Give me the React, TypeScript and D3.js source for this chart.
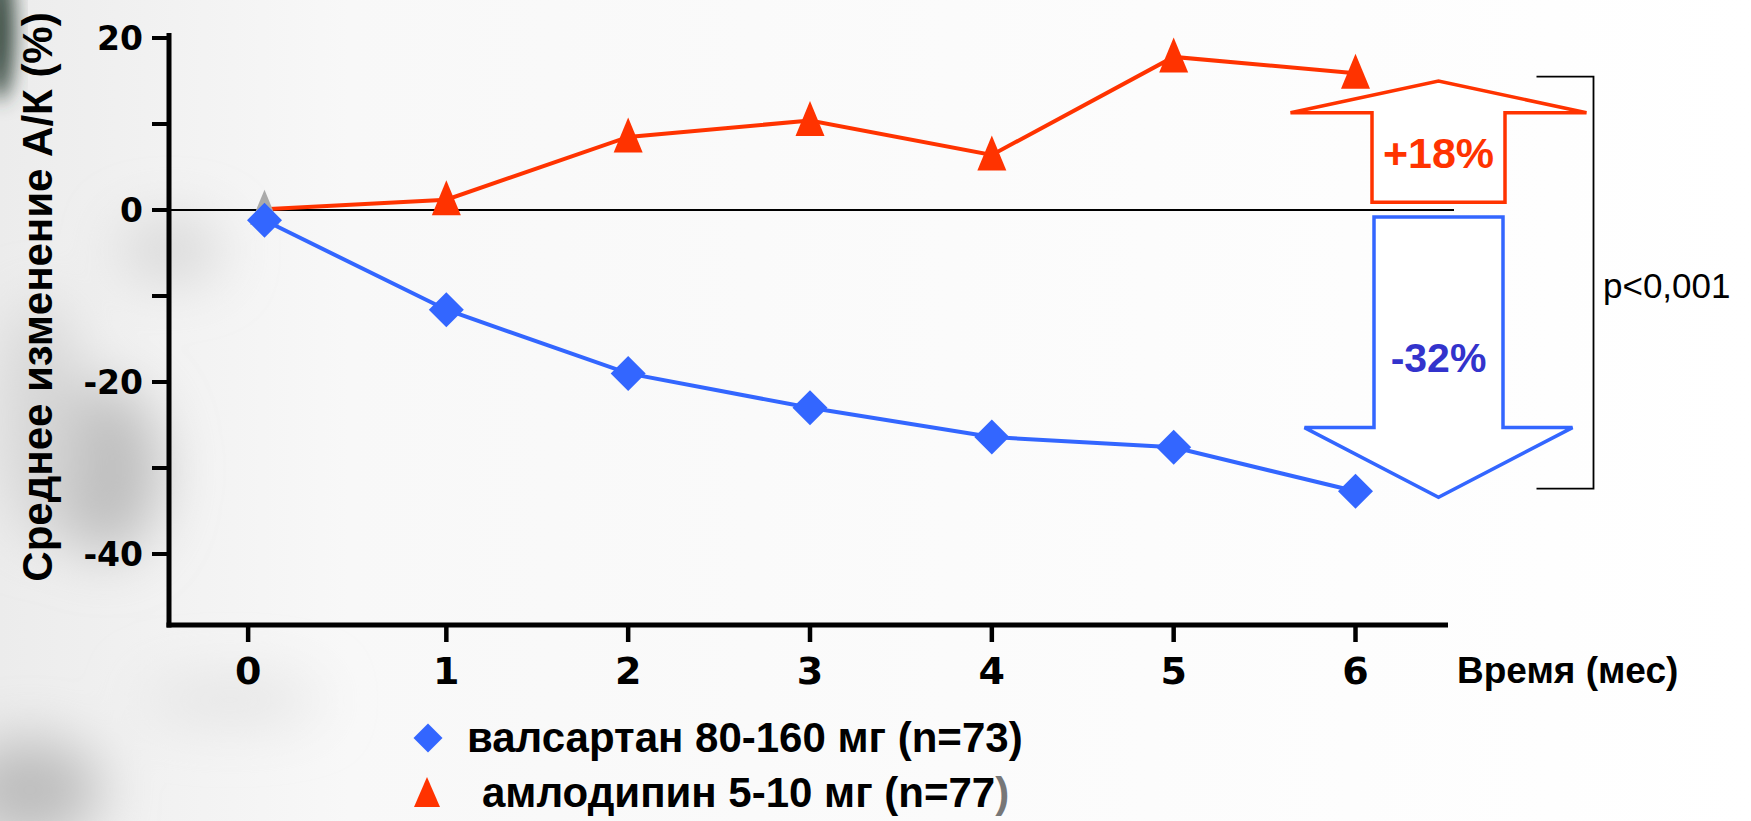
import * as d3 from "d3";

const months = [0, 1, 2, 3, 4, 5, 6];
const valsartan = [-1.2, -11.6, -19.0, -23.0, -26.4, -27.6, -32.7];
const amlodipine = [0.1, 1.2, 8.5, 10.4, 6.4, 17.8, 15.9];

// tick marks sit a little off the month value for "0" in the original
const xTickPos = [-0.09, 1, 2, 3, 4, 5, 6];
const xTickLabels = ["0", "1", "2", "3", "4", "5", "6"];
const yTicks = [20, 10, 0, -10, -20, -30, -40];
const yLabelled = [20, 0, -20, -40];

const legendLabels = ["валсартан 80-160 мг (n=73", "амлодипин 5-10 мг (n=77"];

// annotation arrows, in data units
const upArrow = { from: 0.9, headBase: 11.3, to: 15.0, label: "+18%" };
const downArrow = { from: -0.8, headBase: -25.3, to: -33.4, label: "-32%" };
const bracket = { top: 15.5, bottom: -32.4, label: "p<0,001" };

const W = 1751;
const H = 821;
const RED = "#ff3300";
const BLUE = "#3366ff";
const ARIAL = "'Liberation Sans', Arial, sans-serif";
const DEJAVU = "'DejaVu Sans', Verdana, sans-serif";

const x = d3.scaleLinear().domain([0, 6]).range([264.5, 1355.5]);
const y = d3.scaleLinear().domain([0, 20]).range([210, 38]);

const AXIS_X = 169;
const AXIS_Y = 625;
const AXIS_RIGHT = 1448;
const AXIS_TOP = 33;
const ARROW_CX = 1438.5;

const diamond = (cx: number, cy: number, r: number) =>
  `M${cx},${cy - r}L${cx + r},${cy}L${cx},${cy + r}L${cx - r},${cy}Z`;
const triangle = (cx: number, cy: number, w: number, h: number) =>
  `M${cx},${cy - h / 2}L${cx + w / 2},${cy + h / 2}L${cx - w / 2},${cy + h / 2}Z`;

const App = () => {
  const line = d3
    .line<number>()
    .x((_, i) => x(months[i]))
    .y((d) => y(d));

  const up = [
    [ARROW_CX - 148, y(upArrow.headBase)],
    [ARROW_CX, y(upArrow.to)],
    [ARROW_CX + 148, y(upArrow.headBase)],
    [ARROW_CX + 66.5, y(upArrow.headBase)],
    [ARROW_CX + 66.5, y(upArrow.from)],
    [ARROW_CX - 66.5, y(upArrow.from)],
    [ARROW_CX - 66.5, y(upArrow.headBase)],
  ];
  const down = [
    [ARROW_CX - 64.5, y(downArrow.from)],
    [ARROW_CX + 64.5, y(downArrow.from)],
    [ARROW_CX + 64.5, y(downArrow.headBase)],
    [ARROW_CX + 134, y(downArrow.headBase)],
    [ARROW_CX, y(downArrow.to)],
    [ARROW_CX - 134, y(downArrow.headBase)],
    [ARROW_CX - 64.5, y(downArrow.headBase)],
  ];

  return (
    <svg
      width={W}
      height={H}
      style={{ position: "absolute", left: 0, top: 0, display: "block" }}
    >
      <defs>
        <filter id="blur" x="-50%" y="-50%" width="200%" height="200%">
          <feGaussianBlur stdDeviation="28" />
        </filter>
        <filter id="blurSmall" x="-50%" y="-50%" width="200%" height="200%">
          <feGaussianBlur stdDeviation="10" />
        </filter>
        <linearGradient id="bg" x1="0" x2="1" y1="0" y2="0">
          <stop offset="0" stopColor="#ececec" />
          <stop offset="0.2" stopColor="#f8f8f8" />
          <stop offset="1" stopColor="#ffffff" />
        </linearGradient>
      </defs>
      <rect width={W} height={H} fill="url(#bg)" />
      <g filter="url(#blur)">
        <ellipse cx={170} cy={250} rx={50} ry={30} fill="#d6d6d6" />
        <ellipse cx={105} cy={470} rx={55} ry={85} fill="#bdbdbd" />
        <ellipse cx={40} cy={420} rx={40} ry={120} fill="#d6d6d6" />
        <ellipse cx={30} cy={790} rx={70} ry={50} fill="#bcbcbc" />
        <ellipse cx={230} cy={700} rx={90} ry={22} fill="#e3e3e3" />
      </g>
      <ellipse cx={0} cy={30} rx={14} ry={70} fill="#33443b" filter="url(#blurSmall)" />

      {/* zero line */}
      <line x1={AXIS_X} x2={AXIS_RIGHT + 6} y1={y(0)} y2={y(0)} stroke="#000" strokeWidth={2} />

      {/* y axis */}
      <line x1={AXIS_X} x2={AXIS_X} y1={AXIS_TOP} y2={AXIS_Y + 2.5} stroke="#000" strokeWidth={5} />
      {yTicks.map((t) => (
        <line key={t} x1={152} x2={AXIS_X} y1={y(t)} y2={y(t)} stroke="#000" strokeWidth={4} />
      ))}
      {yLabelled.map((t) => (
        <text
          key={t}
          x={143}
          y={y(t) + 12}
          textAnchor="end"
          fontFamily={DEJAVU}
          fontWeight="bold"
          fontSize={33}
        >
          {t}
        </text>
      ))}
      <text
        transform={`translate(52, 297) rotate(-90)`}
        textAnchor="middle"
        fontFamily={ARIAL}
        fontWeight="bold"
        fontSize={42}
      >
        Среднее изменение А/К (%)
      </text>

      {/* x axis */}
      <line x1={AXIS_X - 2.5} x2={AXIS_RIGHT} y1={AXIS_Y} y2={AXIS_Y} stroke="#000" strokeWidth={5} />
      {xTickPos.map((t, i) => (
        <g key={i}>
          <line x1={x(t)} x2={x(t)} y1={AXIS_Y} y2={642} stroke="#000" strokeWidth={4.5} />
          <text
            x={x(t)}
            y={684}
            textAnchor="middle"
            fontFamily={DEJAVU}
            fontWeight="bold"
            fontSize={38}
          >
            {xTickLabels[i]}
          </text>
        </g>
      ))}
      <text x={1457} y={683} fontFamily={ARIAL} fontWeight="bold" fontSize={37}>
        Время (мес)
      </text>

      {/* series */}
      <path d={line(amlodipine) || undefined} fill="none" stroke={RED} strokeWidth={4} />
      <path d={line(valsartan) || undefined} fill="none" stroke={BLUE} strokeWidth={4} />
      {amlodipine.map((v, i) => (
        <path
          key={"a" + i}
          d={triangle(x(months[i]), y(v) - 2, 29, 35)}
          fill={i === 0 ? "#aaaaaa" : RED}
        />
      ))}
      {valsartan.map((v, i) => (
        <path key={"v" + i} d={diamond(x(months[i]), y(v), 17.5)} fill={BLUE} />
      ))}

      {/* arrows */}
      <polygon
        points={up.map((p) => p.join(",")).join(" ")}
        fill="#fff"
        stroke={RED}
        strokeWidth={3.5}
      />
      <text
        x={ARROW_CX}
        y={168}
        textAnchor="middle"
        fontFamily={ARIAL}
        fontWeight="bold"
        fontSize={43}
        fill={RED}
      >
        {upArrow.label}
      </text>
      <polygon
        points={down.map((p) => p.join(",")).join(" ")}
        fill="#fff"
        stroke={BLUE}
        strokeWidth={3.5}
      />
      <text
        x={ARROW_CX}
        y={372}
        textAnchor="middle"
        fontFamily={ARIAL}
        fontWeight="bold"
        fontSize={41}
        fill="#3333cc"
      >
        {downArrow.label}
      </text>

      {/* significance bracket */}
      <path
        d={`M${ARROW_CX + 98},${y(bracket.top)}H${ARROW_CX + 155}V${y(bracket.bottom)}H${ARROW_CX + 98}`}
        fill="none"
        stroke="#000"
        strokeWidth={1.8}
      />
      <text x={1603} y={298} fontFamily={ARIAL} fontSize={35}>
        {bracket.label}
      </text>

      {/* legend */}
      <path d={diamond(428, 738, 14.5)} fill={BLUE} />
      <text x={467} y={752} fontFamily={ARIAL} fontWeight="bold" fontSize={42}>
        {legendLabels[0]}
        <tspan>)</tspan>
      </text>
      <path d={triangle(427, 792, 26, 30)} fill={RED} />
      <text x={482} y={807} fontFamily={ARIAL} fontWeight="bold" fontSize={42}>
        {legendLabels[1]}
        <tspan fill="#777">)</tspan>
      </text>
    </svg>
  );
};

export default App;
